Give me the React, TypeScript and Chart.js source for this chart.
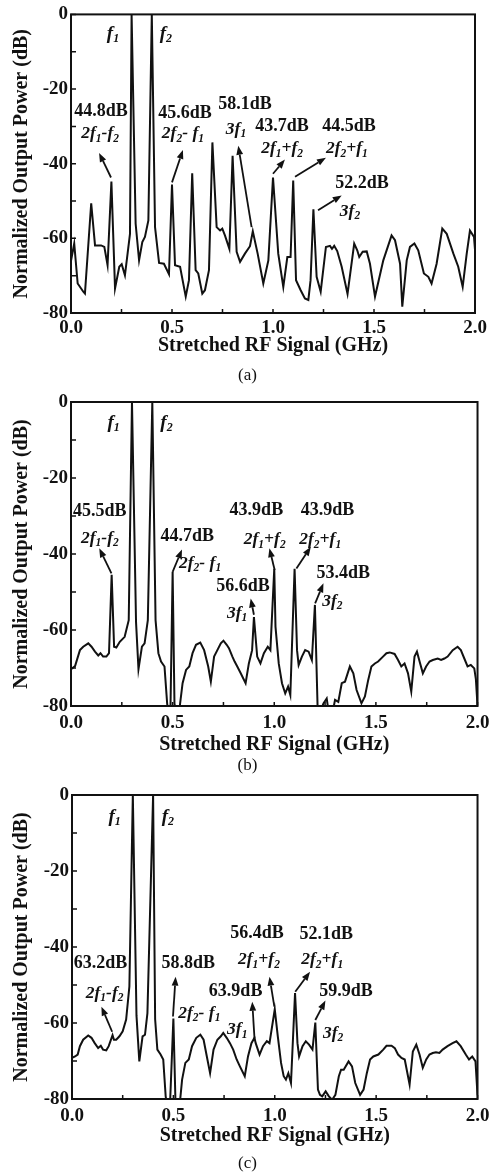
import React, { useEffect, useRef } from 'react';
import { Chart, registerables } from 'chart.js';

Chart.register(...registerables);

const SERIF = '"Liberation Serif", "Times New Roman", Times, serif';

// ---------- Panel (a) ----------
const freqA = [0, 0.016, 0.033, 0.061, 0.069, 0.1, 0.119, 0.149, 0.165, 0.181, 0.2, 0.218, 0.239, 0.251, 0.267, 0.292, 0.3, 0.32, 0.337, 0.353, 0.366, 0.383, 0.4, 0.416, 0.436, 0.46, 0.485, 0.5, 0.515, 0.54, 0.568, 0.584, 0.6, 0.617, 0.63, 0.65, 0.663, 0.683, 0.7, 0.721, 0.738, 0.749, 0.762, 0.784, 0.8, 0.82, 0.837, 0.861, 0.886, 0.9, 0.924, 0.952, 0.977, 1.0, 1.026, 1.051, 1.071, 1.087, 1.1, 1.114, 1.137, 1.158, 1.175, 1.186, 1.2, 1.216, 1.236, 1.262, 1.282, 1.292, 1.303, 1.318, 1.34, 1.369, 1.402, 1.417, 1.427, 1.444, 1.464, 1.48, 1.505, 1.546, 1.587, 1.604, 1.629, 1.64, 1.662, 1.678, 1.7, 1.719, 1.747, 1.769, 1.785, 1.81, 1.838, 1.86, 1.893, 1.917, 1.939, 1.959, 1.975, 1.995, 2.0];
const powerA = [-66, -61.4, -72.1, -74.3, -74.8, -50.6, -61.9, -61.9, -62.3, -67.2, -44.8, -73.4, -67.6, -66.9, -69.9, -58.8, 0, -56.1, -65.9, -61, -59.6, -55.2, 0, -57, -66.6, -66.8, -69.6, -45.6, -67.2, -67.6, -75.6, -71.2, -42.6, -68.5, -69.4, -74.8, -73.9, -68.5, -34.3, -57, -57.9, -57.4, -59.2, -62.8, -37.9, -63.6, -66.3, -64.1, -62.1, -58.1, -64.1, -72.1, -65.9, -43.7, -64.1, -73, -65, -65, -44.5, -71.2, -73.9, -76.1, -76.5, -71.2, -52.2, -70.3, -74.3, -62.3, -62, -62.8, -62, -63.4, -67.6, -74.9, -61.4, -63.2, -65, -63.6, -63.5, -66.8, -75.6, -65.9, -59.2, -60.5, -66.8, -78.3, -65.9, -62.3, -61.4, -63.2, -69.4, -70.3, -72.1, -66.8, -57.4, -58.8, -64.1, -67.6, -73, -64.1, -57.9, -59.6, -63];

// ---------- Panel (b) ----------
const freqB = [0, 0.02, 0.044, 0.06, 0.085, 0.101, 0.118, 0.134, 0.145, 0.158, 0.174, 0.187, 0.2, 0.212, 0.223, 0.24, 0.264, 0.284, 0.3, 0.32, 0.332, 0.349, 0.362, 0.378, 0.4, 0.416, 0.43, 0.443, 0.46, 0.473, 0.479, 0.489, 0.5, 0.509, 0.517, 0.533, 0.549, 0.566, 0.582, 0.598, 0.615, 0.636, 0.655, 0.675, 0.688, 0.704, 0.72, 0.737, 0.75, 0.766, 0.777, 0.794, 0.805, 0.818, 0.835, 0.859, 0.875, 0.891, 0.9, 0.916, 0.932, 0.949, 0.968, 0.981, 1.0, 1.006, 1.022, 1.038, 1.054, 1.068, 1.079, 1.1, 1.112, 1.12, 1.136, 1.152, 1.169, 1.185, 1.2, 1.214, 1.23, 1.242, 1.258, 1.266, 1.291, 1.299, 1.315, 1.332, 1.348, 1.372, 1.389, 1.405, 1.429, 1.446, 1.462, 1.478, 1.495, 1.511, 1.535, 1.552, 1.568, 1.592, 1.609, 1.625, 1.641, 1.658, 1.674, 1.69, 1.702, 1.715, 1.731, 1.747, 1.764, 1.78, 1.804, 1.821, 1.837, 1.853, 1.878, 1.902, 1.918, 1.935, 1.951, 1.967, 1.984, 1.992, 2.0];
const powerB = [-70.3, -69.5, -65.3, -64.4, -63.5, -64.4, -65.7, -66.7, -66.1, -67, -67, -66.1, -45.5, -64.4, -64.6, -63.1, -61.8, -57.4, 0, -58, -70.3, -64.4, -63.5, -57.4, 0, -57.4, -66.1, -68.3, -69.6, -79.3, -82, -82, -44.7, -79.3, -82, -81, -74, -70.5, -69.6, -66.1, -63.9, -63.3, -65.3, -69.6, -73.6, -67, -65.3, -63.5, -62.8, -63.9, -64.8, -67, -68.3, -69.6, -71.4, -74, -68.8, -65.3, -56.6, -67, -68.8, -66.1, -64.4, -65.3, -43.9, -59.1, -68.8, -74, -76.7, -74.9, -77.1, -43.9, -65.3, -69.2, -67, -65.3, -65.7, -67.9, -53.4, -82, -81, -79.3, -78, -81, -80.6, -78.4, -78.9, -74, -73.6, -69.6, -71.4, -75.8, -79.3, -77.5, -73.2, -69.6, -68.8, -68.3, -67, -66.1, -65.9, -66.3, -67.9, -69.6, -68.8, -71.4, -76.2, -67, -65.7, -68.3, -71.4, -69.6, -68.3, -67.9, -67.5, -67.9, -67.5, -67, -65.3, -64.4, -65.3, -67.5, -69.6, -69.2, -70.1, -73, -80];

// ---------- Panel (c) ----------
const freqC = [0, 0.015, 0.028, 0.039, 0.055, 0.08, 0.096, 0.112, 0.129, 0.142, 0.153, 0.169, 0.181, 0.2, 0.207, 0.218, 0.234, 0.25, 0.267, 0.283, 0.3, 0.318, 0.332, 0.348, 0.36, 0.372, 0.4, 0.41, 0.421, 0.437, 0.45, 0.462, 0.47, 0.483, 0.5, 0.51, 0.518, 0.532, 0.543, 0.559, 0.576, 0.592, 0.613, 0.633, 0.649, 0.665, 0.681, 0.698, 0.717, 0.734, 0.746, 0.763, 0.779, 0.795, 0.812, 0.828, 0.852, 0.868, 0.885, 0.9, 0.906, 0.925, 0.942, 0.961, 0.974, 1.0, 1.015, 1.031, 1.044, 1.055, 1.067, 1.08, 1.1, 1.112, 1.12, 1.137, 1.153, 1.169, 1.186, 1.2, 1.213, 1.223, 1.234, 1.251, 1.267, 1.283, 1.299, 1.316, 1.327, 1.34, 1.364, 1.381, 1.397, 1.421, 1.438, 1.454, 1.47, 1.486, 1.511, 1.535, 1.551, 1.576, 1.592, 1.608, 1.625, 1.641, 1.665, 1.681, 1.698, 1.714, 1.73, 1.747, 1.763, 1.779, 1.795, 1.812, 1.828, 1.852, 1.877, 1.896, 1.917, 1.942, 1.958, 1.974, 1.99, 2.0];
const powerC = [-69.2, -68.8, -68.3, -66.1, -64.4, -63.3, -63.9, -65.3, -66.6, -66, -67, -67.2, -66.1, -63.2, -64.4, -64.4, -63.5, -62.2, -59.1, -50.4, 0, -58, -70.1, -63.5, -63.1, -57.4, 0, -59, -67, -68.3, -69.6, -79.3, -82, -82, -58.8, -80, -82, -81, -74.9, -70.5, -69.6, -66.1, -63.9, -63.1, -64.4, -68.8, -73.2, -67, -64.4, -63.5, -62.6, -63.9, -65.3, -67, -69.6, -71.4, -74, -68.8, -65.3, -63.9, -65.3, -68.3, -66.1, -64.8, -65.3, -56.4, -63.5, -70.5, -74, -74.9, -73.2, -75.8, -52.1, -65.3, -68.8, -66.1, -64.8, -65.7, -67, -59.9, -77.5, -78.9, -79.3, -78, -79.3, -80.2, -78.9, -74, -72.3, -72.3, -70.1, -71.4, -75.8, -78.9, -77.5, -73.2, -69.6, -68.8, -68.3, -67, -66, -66, -66.6, -68.3, -69.2, -69.6, -76.2, -67.5, -65.7, -68.3, -71.8, -69.6, -68.3, -67.9, -67.7, -67.9, -67, -66.1, -65.3, -64.8, -66.1, -68.3, -69.6, -68.8, -70.1, -79];

// ---------- Axis texts ----------
const xTitle = 'Stretched RF Signal (GHz)';
const yTitle = 'Normalized Output Power (dB)';
const captions = ['(a)', '(b)', '(c)'];

// ---------- Annotations (text in data coordinates, "_" marks a subscript) ----------
type Ann = { t: string; x: number; y: number; k: 'f' | 'n' | 'h' };
type Arrow = [number, number, number, number];

const labelsA: Ann[] = [
  { t: 'f_1', x: 0.208, y: -5.3, k: 'f' },
  { t: 'f_2', x: 0.47, y: -5.3, k: 'f' },
  { t: '44.8dB', x: 0.149, y: -25.9, k: 'n' },
  { t: '2f_1-f_2', x: 0.144, y: -32, k: 'h' },
  { t: '45.6dB', x: 0.564, y: -26.4, k: 'n' },
  { t: '2f_2- f_1', x: 0.554, y: -32, k: 'h' },
  { t: '58.1dB', x: 0.861, y: -24, k: 'n' },
  { t: '3f_1', x: 0.817, y: -30.7, k: 'h' },
  { t: '43.7dB', x: 1.045, y: -29.9, k: 'n' },
  { t: '2f_1+f_2', x: 1.045, y: -36, k: 'h' },
  { t: '44.5dB', x: 1.376, y: -29.9, k: 'n' },
  { t: '2f_2+f_1', x: 1.366, y: -36, k: 'h' },
  { t: '52.2dB', x: 1.441, y: -45.3, k: 'n' },
  { t: '3f_2', x: 1.381, y: -52.8, k: 'h' },
];
const arrowsA: Arrow[] = [
  [0.198, -43.7, 0.139, -37.1],
  [0.5, -45, 0.554, -36.3],
  [0.894, -57, 0.828, -35.2],
  [1.0, -42.7, 1.059, -38.9],
  [1.109, -43.5, 1.262, -38.4],
  [1.223, -52.5, 1.34, -48.5],
];

const labelsB: Ann[] = [
  { t: 'f_1', x: 0.21, y: -5.5, k: 'f' },
  { t: 'f_2', x: 0.47, y: -5.5, k: 'f' },
  { t: '45.5dB', x: 0.142, y: -28.9, k: 'n' },
  { t: '2f_1-f_2', x: 0.142, y: -35.8, k: 'h' },
  { t: '44.7dB', x: 0.572, y: -35.4, k: 'n' },
  { t: '2f_2- f_1', x: 0.635, y: -42.5, k: 'h' },
  { t: '43.9dB', x: 0.912, y: -28.4, k: 'n' },
  { t: '2f_1+f_2', x: 0.953, y: -36.3, k: 'h' },
  { t: '43.9dB', x: 1.262, y: -28.4, k: 'n' },
  { t: '2f_2+f_1', x: 1.226, y: -36.3, k: 'h' },
  { t: '56.6dB', x: 0.846, y: -48.6, k: 'n' },
  { t: '3f_1', x: 0.817, y: -55.6, k: 'h' },
  { t: '53.4dB', x: 1.34, y: -45.1, k: 'n' },
  { t: '3f_2', x: 1.286, y: -52.5, k: 'h' },
];
const arrowsB: Arrow[] = [
  [0.199, -45.1, 0.139, -38.5],
  [0.5, -44.7, 0.546, -38.8],
  [1.002, -44.2, 0.976, -38.5],
  [1.109, -43.8, 1.18, -38.1],
  [1.201, -53, 1.242, -47.7],
  [0.9, -56, 0.884, -51.7],
];

const labelsC: Ann[] = [
  { t: 'f_1', x: 0.21, y: -5.7, k: 'f' },
  { t: 'f_2', x: 0.473, y: -5.7, k: 'f' },
  { t: '63.2dB', x: 0.141, y: -44.3, k: 'n' },
  { t: '2f_1-f_2', x: 0.161, y: -52.2, k: 'h' },
  { t: '58.8dB', x: 0.573, y: -44.3, k: 'n' },
  { t: '2f_2- f_1', x: 0.628, y: -57.4, k: 'h' },
  { t: '56.4dB', x: 0.912, y: -36.4, k: 'n' },
  { t: '2f_1+f_2', x: 0.922, y: -43.4, k: 'h' },
  { t: '52.1dB', x: 1.254, y: -36.8, k: 'n' },
  { t: '2f_2+f_1', x: 1.234, y: -43.4, k: 'h' },
  { t: '63.9dB', x: 0.807, y: -51.8, k: 'n' },
  { t: '3f_1', x: 0.815, y: -61.8, k: 'h' },
  { t: '59.9dB', x: 1.351, y: -51.8, k: 'n' },
  { t: '3f_2', x: 1.288, y: -62.7, k: 'h' },
];
const arrowsC: Arrow[] = [
  [0.198, -62.3, 0.145, -55.7],
  [0.498, -58.3, 0.511, -47.8],
  [0.9, -64, 0.889, -54.4],
  [0.998, -55.7, 0.974, -47.8],
  [1.101, -51.8, 1.174, -46.5],
  [1.2, -59.2, 1.25, -54.1],
];

type Geo = {
  top: number; h: number; aTop: number; aBottom: number; aLeft: number; aRight: number;
  xLabPad: number; xTitlePad: number; capY: number;
};

const geos: Geo[] = [
  { top: 0, h: 385, aTop: 13, aBottom: 313, aLeft: 71, aRight: 475, xLabPad: 3.6, xTitlePad: 27, capY: 375 },
  { top: 385, h: 390, aTop: 17, aBottom: 321, aLeft: 71, aRight: 480, xLabPad: 5.6, xTitlePad: 18.4, capY: 765 },
  { top: 775, h: 398, aTop: 20, aBottom: 324, aLeft: 72, aRight: 482, xLabPad: 5.6, xTitlePad: 25, capY: 1163 },
];

const INK = '#111';

function parseRich(text: string) {
  const segs: { s: string; sub: boolean }[] = [];
  let i = 0;
  while (i < text.length) {
    if (text[i] === '_') {
      segs.push({ s: text[i + 1], sub: true });
      i += 2;
    } else {
      let j = i;
      while (j < text.length && text[j] !== '_') j++;
      segs.push({ s: text.slice(i, j), sub: false });
      i = j;
    }
  }
  return segs;
}

function drawRich(ctx: CanvasRenderingContext2D, a: Ann, cx: number, cy: number) {
  const main = a.k === 'f' ? 19 : a.k === 'n' ? 18 : 17.5;
  const subSize = a.k === 'f' ? 12 : 11.5;
  const style = a.k === 'n' ? 'bold' : 'italic bold';
  const segs = parseRich(a.t);
  const fonts = segs.map((g) => `${style} ${g.sub ? subSize : main}px ${SERIF}`);
  let total = 0;
  const widths = segs.map((g, i) => {
    ctx.font = fonts[i];
    const w = ctx.measureText(g.s).width;
    total += w;
    return w;
  });
  let x = cx - total / 2;
  ctx.textBaseline = 'middle';
  ctx.textAlign = 'left';
  ctx.fillStyle = INK;
  segs.forEach((g, i) => {
    ctx.font = fonts[i];
    ctx.fillText(g.s, x, cy + (g.sub ? 5 : 0));
    x += widths[i];
  });
}

function drawArrow(ctx: CanvasRenderingContext2D, x1: number, y1: number, x2: number, y2: number) {
  const ang = Math.atan2(y2 - y1, x2 - x1);
  const hl = 9, hw = 3.4;
  const bx = x2 - hl * Math.cos(ang), by = y2 - hl * Math.sin(ang);
  ctx.strokeStyle = INK;
  ctx.fillStyle = INK;
  ctx.lineWidth = 1.8;
  ctx.beginPath();
  ctx.moveTo(x1, y1);
  ctx.lineTo(bx, by);
  ctx.stroke();
  ctx.beginPath();
  ctx.moveTo(x2, y2);
  ctx.lineTo(bx + hw * Math.sin(ang), by - hw * Math.cos(ang));
  ctx.lineTo(bx - hw * Math.sin(ang), by + hw * Math.cos(ang));
  ctx.closePath();
  ctx.fill();
}

function Panel(props: { freq: number[]; power: number[]; labels: Ann[]; arrows: Arrow[]; geo: Geo }) {
  const { freq, power, labels, arrows, geo } = props;
  const ref = useRef<HTMLCanvasElement>(null);
  useEffect(() => {
    if (!ref.current) return;
    const decor = {
      id: 'decor',
      afterDraw(chart: any) {
        const { ctx, chartArea } = chart;
        const { left, right, top, bottom } = chartArea;
        const xs = chart.scales.x;
        const ys = chart.scales.y;
        ctx.save();
        ctx.strokeStyle = INK;
        ctx.lineWidth = 2;
        ctx.strokeRect(left, top, right - left, bottom - top);
        ctx.lineWidth = 1.5;
        ctx.beginPath();
        for (let v = -80; v <= 0; v += 10) {
          const py = ys.getPixelForValue(v);
          ctx.moveTo(left, py);
          ctx.lineTo(left + 5, py);
        }
        for (let k = 0; k <= 8; k++) {
          const px = xs.getPixelForValue(k * 0.25);
          ctx.moveTo(px, bottom);
          ctx.lineTo(px, bottom - 4);
        }
        ctx.stroke();
        arrows.forEach(([a, b, c, d]) =>
          drawArrow(ctx, xs.getPixelForValue(a), ys.getPixelForValue(b), xs.getPixelForValue(c), ys.getPixelForValue(d))
        );
        labels.forEach((l) => drawRich(ctx, l, xs.getPixelForValue(l.x), ys.getPixelForValue(l.y)));
        ctx.restore();
      },
    };
    const chart = new Chart(ref.current, {
      type: 'line',
      data: {
        datasets: [
          {
            data: freq.map((f, i) => ({ x: f, y: power[i] })),
            borderColor: INK,
            borderWidth: 2,
            pointRadius: 0,
            tension: 0,
            fill: false,
          },
        ],
      },
      options: {
        responsive: false,
        animation: false,
        events: [],
        layout: { padding: { top: geo.aTop, right: 495 - geo.aRight, left: 0, bottom: 0 } },
        plugins: { legend: { display: false }, tooltip: { enabled: false }, title: { display: false } },
        scales: {
          x: {
            type: 'linear',
            min: 0,
            max: 2,
            grid: { display: false, drawTicks: false },
            border: { display: false },
            ticks: {
              stepSize: 0.5,
              padding: geo.xLabPad,
              color: INK,
              font: { family: SERIF, size: 19, weight: 'bold' },
              callback: (v: any) => Number(v).toFixed(1),
            },
            title: {
              display: true,
              text: xTitle,
              color: INK,
              font: { family: SERIF, size: 20, weight: 'bold' },
              padding: { top: 0, bottom: geo.xTitlePad },
            },
            afterFit: (s: any) => {
              s.height = geo.h - geo.aBottom;
            },
          },
          y: {
            type: 'linear',
            min: -80,
            max: 0,
            grid: { display: false, drawTicks: false },
            border: { display: false },
            ticks: {
              stepSize: 20,
              padding: 3,
              color: INK,
              font: { family: SERIF, size: 19, weight: 'bold' },
              callback: (v: any) => String(v),
            },
            title: {
              display: true,
              text: yTitle,
              color: INK,
              font: { family: SERIF, size: 20, weight: 'bold' },
              padding: { top: 10, bottom: 0 },
            },
            afterFit: (s: any) => {
              s.width = geo.aLeft;
            },
          },
        },
      } as any,
      plugins: [decor],
    });
    return () => chart.destroy();
  }, []);
  return (
    <canvas
      ref={ref}
      width={495}
      height={geo.h}
      style={{ position: 'absolute', left: 0, top: geo.top, width: 495, height: geo.h, display: 'block' }}
    />
  );
}

export default function App() {
  const panels = [
    { freq: freqA, power: powerA, labels: labelsA, arrows: arrowsA },
    { freq: freqB, power: powerB, labels: labelsB, arrows: arrowsB },
    { freq: freqC, power: powerC, labels: labelsC, arrows: arrowsC },
  ];
  return (
    <div style={{ position: 'absolute', left: 0, top: 0, width: 495, height: 1173, background: '#fff', overflow: 'hidden' }}>
      {panels.map((p, i) => (
        <Panel key={i} {...p} geo={geos[i]} />
      ))}
      {captions.map((c, i) => (
        <div
          key={c}
          style={{
            position: 'absolute',
            left: 0,
            width: 495,
            top: geos[i].capY - 10,
            height: 20,
            lineHeight: '20px',
            textAlign: 'center',
            fontFamily: SERIF,
            fontSize: 17,
            color: INK,
          }}
        >
          {c}
        </div>
      ))}
    </div>
  );
}
